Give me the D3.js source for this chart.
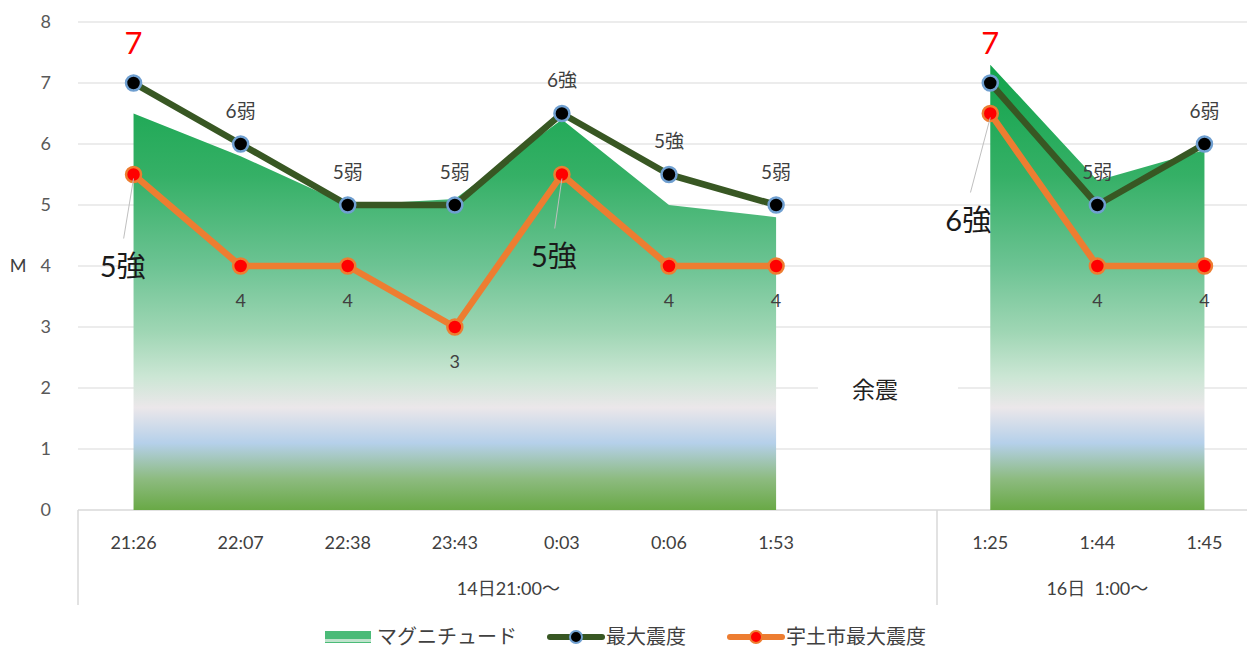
<!DOCTYPE html>
<html lang="ja">
<head>
<meta charset="UTF-8">
<title>熊本地震 マグニチュードと震度</title>
<style>
  body { margin: 0; background: #fff; }
  svg text { font-family: Lato, "Noto Sans CJK JP", sans-serif; }
  .grid line { stroke: #d9d9d9; stroke-width: 1; }
  .tick-y { fill: #595959; font-size: 18px; text-anchor: end; }
  .tick-x { fill: #404040; font-size: 18px; text-anchor: middle; }
</style>
</head>
<body>
<svg id="chart" width="1247" height="652"></svg>
<script src="https://cdn.jsdelivr.net/npm/d3@7"></script>
<script>
// categories (empty slot = gap between the two groups)
var times = ["21:26", "22:07", "22:38", "23:43", "0:03", "0:06", "1:53", "", "1:25", "1:44", "1:45"];
var magnitude = [6.5, 5.8, 5.0, 5.1, 6.4, 5.0, 4.8, null, 7.3, 5.4, 5.9];
// 震度 on a numeric scale: 5弱=5, 5強=5.5, 6弱=6, 6強=6.5
var maxShindo = [7, 6, 5, 5, 6.5, 5.5, 5, null, 7, 5, 6];
var maxShindoLabels = ["7", "6弱", "5弱", "5弱", "6強", "5強", "5弱", null, "7", "5弱", "6弱"];
var utoShindo = [5.5, 4, 4, 3, 5.5, 4, 4, null, 6.5, 4, 4];
var utoLabels = ["5強", "4", "4", "3", "5強", "4", "4", null, "6強", "4", "4"];
var groups = [
  {label: "14日21:00～", from: 0, to: 7},
  {label: "16日\u00a0 1:00～", from: 8, to: 10}
];
var yTicks = [0, 1, 2, 3, 4, 5, 6, 7, 8];

var svg = d3.select("#chart");

var x = d3.scaleBand().domain(d3.range(times.length)).range([80, 1258]).padding(0);
var cx = function(i) { return x(i) + x.bandwidth() / 2; };
var y = d3.scaleLinear().domain([0, 8]).range([510, 22]);

// gradient for the magnitude area
var defs = svg.append("defs");
var grad = defs.append("linearGradient")
    .attr("id", "magGrad")
    .attr("gradientUnits", "userSpaceOnUse")
    .attr("x1", 0).attr("x2", 0)
    .attr("y1", y(7.3)).attr("y2", y(0));
[[0, "#12a44c"], [0.25, "#35b066"], [0.45, "#6cc393"], [0.6, "#9fd6b4"],
 [0.7, "#cbe6d4"], [0.77, "#ebe7ea"], [0.85, "#b5d0ea"], [0.93, "#8dbb80"], [1, "#69a946"]]
  .forEach(function(s) {
    grad.append("stop").attr("offset", s[0]).attr("stop-color", s[1]);
  });

// grid
svg.append("g").attr("class", "grid")
  .selectAll("line").data(yTicks.slice(1)).enter().append("line")
    .attr("x1", 78).attr("x2", 1258)
    .attr("y1", function(d) { return y(d); })
    .attr("y2", function(d) { return y(d); });

// baseline and group separators
svg.append("line").attr("x1", 78).attr("x2", 1258).attr("y1", y(0)).attr("y2", y(0))
    .attr("stroke", "#d9d9d9").attr("stroke-width", 1.5);
[78, 937].forEach(function(px) {
  svg.append("line").attr("x1", px).attr("x2", px).attr("y1", y(0)).attr("y2", 605)
      .attr("stroke", "#d9d9d9").attr("stroke-width", 1.5);
});

// y tick labels
svg.selectAll(".tick-y").data(yTicks).enter().append("text")
    .attr("class", "tick-y")
    .attr("x", 51).attr("y", function(d) { return y(d); })
    .attr("dy", "0.35em")
    .text(function(d) { return d; });
svg.append("text").attr("x", 18).attr("y", y(4)).attr("dy", "0.35em")
    .attr("text-anchor", "middle").attr("fill", "#404040").attr("font-size", 18).text("M");

// x tick labels
svg.selectAll(".tick-x").data(times).enter().append("text")
    .attr("class", "tick-x")
    .attr("x", function(d, i) { return cx(i); })
    .attr("y", 549)
    .text(function(d) { return d; });
svg.selectAll(".grp").data(groups).enter().append("text")
    .attr("x", function(g) { return (cx(g.from) + cx(g.to)) / 2; })
    .attr("y", 595)
    .attr("text-anchor", "middle").attr("fill", "#404040").attr("font-size", 18)
    .text(function(g) { return g.label; });

// magnitude area
var area = d3.area()
    .defined(function(d) { return d != null; })
    .x(function(d, i) { return cx(i); })
    .y0(y(0))
    .y1(function(d) { return y(d); });
svg.append("path").datum(magnitude)
    .attr("d", area)
    .attr("fill", "url(#magGrad)");

// "余震" label with white box
svg.append("rect").attr("x", 818).attr("y", 372).attr("width", 140).attr("height", 36).attr("fill", "#fff");
svg.append("text").attr("x", 875).attr("y", 390).attr("dy", "0.35em")
    .attr("text-anchor", "middle").attr("font-size", 23).attr("fill", "#222")
    .text("余震");

function drawLine(vals, color, markerFill, markerStroke) {
  var line = d3.line()
      .defined(function(d) { return d != null; })
      .x(function(d, i) { return cx(i); })
      .y(function(d) { return y(d); });
  svg.append("path").datum(vals)
      .attr("d", line)
      .attr("fill", "none").attr("stroke", color).attr("stroke-width", 6.5)
      .attr("stroke-linejoin", "round");
  var pts = vals.map(function(d, i) { return {v: d, i: i}; }).filter(function(p) { return p.v != null; });
  svg.append("g").selectAll("circle").data(pts).enter().append("circle")
      .attr("cx", function(p) { return cx(p.i); })
      .attr("cy", function(p) { return y(p.v); })
      .attr("r", 7.5)
      .attr("fill", markerFill).attr("stroke", markerStroke).attr("stroke-width", 2.5);
}
drawLine(maxShindo, "#385723", "#000", "#6f9fd0");
drawLine(utoShindo, "#ed7d31", "#ff0000", "#ed7d31");

// labels above 最大震度
maxShindoLabels.forEach(function(t, i) {
  if (t == null) return;
  var big = t === "7";
  svg.append("text")
      .attr("x", cx(i))
      .attr("y", y(maxShindo[i]) - (big ? 40 : 33))
      .attr("dy", "0.35em")
      .attr("text-anchor", "middle")
      .attr("font-size", big ? 31 : 19)
      .attr("fill", big ? "#ff0000" : "#404040")
      .text(t);
});

// labels below 宇土市最大震度 (強 labels are large, pulled off with a leader line)
var bigOffsets = {0: [-11, 92], 4: [-8, 82], 8: [-22, 107]};
utoLabels.forEach(function(t, i) {
  if (t == null) return;
  var px = cx(i), py = y(utoShindo[i]);
  if (bigOffsets[i]) {
    var o = bigOffsets[i];
    svg.append("line")
        .attr("x1", px).attr("y1", py + 4)
        .attr("x2", px + o[0] * 0.9).attr("y2", py + o[1] - 28)
        .attr("stroke", "#bfbfbf").attr("stroke-width", 1);
    svg.append("text")
        .attr("x", px + o[0]).attr("y", py + o[1])
        .attr("dy", "0.35em").attr("text-anchor", "middle")
        .attr("font-size", 29).attr("fill", "#1a1a1a")
        .text(t);
  } else {
    svg.append("text")
        .attr("x", px).attr("y", py + 35)
        .attr("dy", "0.35em").attr("text-anchor", "middle")
        .attr("font-size", 18).attr("fill", "#404040")
        .text(t);
  }
});

// legend
var lg = svg.append("g").attr("transform", "translate(0,637)");
lg.append("rect").attr("x", 325).attr("y", -6).attr("width", 46).attr("height", 12)
    .attr("fill", "#4bbb78");
lg.append("rect").attr("x", 325).attr("y", 2).attr("width", 46).attr("height", 3)
    .attr("fill", "#bfe3cc");
lg.append("text").attr("x", 377).attr("y", 0).attr("dy", "0.35em")
    .attr("font-size", 20).attr("fill", "#404040").text("マグニチュード");
[[550, "#385723", "#000", "#6f9fd0", "最大震度"],
 [730, "#ed7d31", "#ff0000", "#ed7d31", "宇土市最大震度"]].forEach(function(l) {
  lg.append("line").attr("x1", l[0]).attr("x2", l[0] + 52).attr("y1", 0).attr("y2", 0)
      .attr("stroke", l[1]).attr("stroke-width", 6).attr("stroke-linecap", "round");
  lg.append("circle").attr("cx", l[0] + 26).attr("cy", 0).attr("r", 6)
      .attr("fill", l[2]).attr("stroke", l[3]).attr("stroke-width", 2);
  lg.append("text").attr("x", l[0] + 56).attr("y", 0).attr("dy", "0.35em")
      .attr("font-size", 20).attr("fill", "#404040").text(l[4]);
});
</script>
</body>
</html>
